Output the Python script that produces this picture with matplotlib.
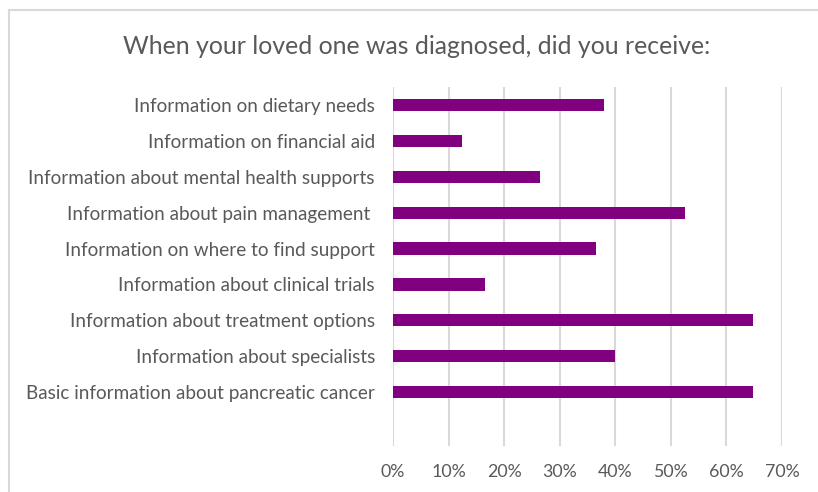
import matplotlib.pyplot as plt
from matplotlib.lines import Line2D
from matplotlib.ticker import PercentFormatter

labels = [
    'Information on dietary needs',
    'Information on financial aid',
    'Information about mental health supports',
    'Information about pain management ',
    'Information on where to find support',
    'Information about clinical trials',
    'Information about treatment options',
    'Information about specialists',
    'Basic information about pancreatic cancer',
]
values = [0.379, 0.125, 0.264, 0.525, 0.365, 0.166, 0.647, 0.399, 0.647]
ticks = [0, 0.1, 0.2, 0.3, 0.4, 0.5, 0.6, 0.7]

plt.rcParams['font.family'] = ['Lato', 'DejaVu Sans']
gray = '#595959'

W, H = 818, 492
fig = plt.figure(figsize=(W / 100, H / 100), dpi=100)
ax = fig.add_axes([393 / W, 1 - 446 / H, (782 - 393) / W, (446 - 87) / H])

pos = list(range(len(labels)))
ax.barh(pos, values, height=0.34, color='#800080', zorder=3)
ax.set_ylim(len(labels) + 0.5, -0.5)
ax.set_yticks(pos)
ax.set_yticklabels(labels, fontsize=13.6, color=gray)
ax.set_xlim(0, 0.7)
ax.set_xticks(ticks)
ax.xaxis.set_major_formatter(PercentFormatter(1.0, decimals=0))
ax.tick_params(axis='x', labelsize=12.8, labelcolor=gray, length=0, pad=13)
ax.tick_params(axis='y', length=0, pad=13)
ax.grid(axis='x', color='#d9d9d9', linewidth=1.5, zorder=0)
for s in ax.spines.values():
    s.set_visible(False)

fig.text(417 / W, 1 - 46 / H, 'When your loved one was diagnosed, did you receive:',
         ha='center', va='center', fontsize=17.9, color=gray)

# chart frame (top and left edges visible)
fig.add_artist(Line2D([8.5 / W, 1], [1 - 9.5 / H] * 2, color='#d9d9d9', lw=1.5))
fig.add_artist(Line2D([8.5 / W] * 2, [0, 1 - 9.5 / H], color='#d9d9d9', lw=1.5))

fig.savefig('out.png', dpi=100)
